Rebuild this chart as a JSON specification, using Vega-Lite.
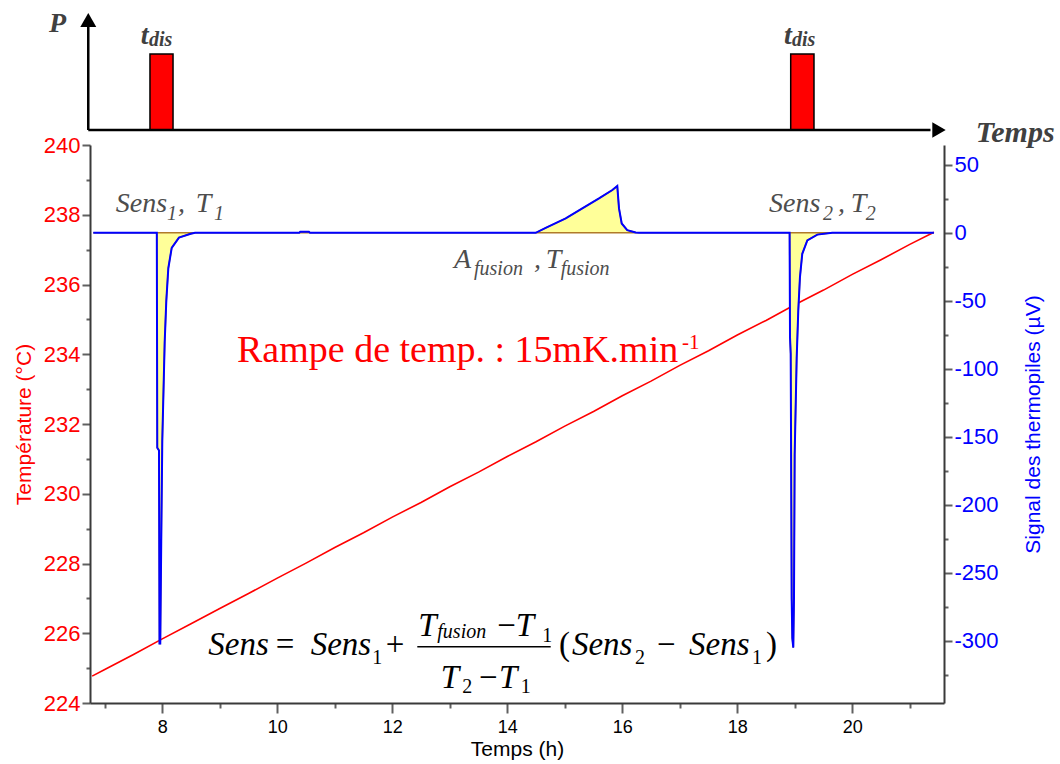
{
  "$schema": "https://vega.github.io/schema/vega-lite/v6.json",
  "padding": {"left": 13, "top": 9, "right": 2, "bottom": 2},
  "bounds": "flush",
  "spacing": 15,
  "config": {
    "locale": {"number": {"decimal": ".", "thousands": ",", "grouping": [3], "currency": ["", ""], "minus": "-"}},
    "view": {"stroke": null},
    "axis": {"grid": false, "labelFont": "Liberation Sans", "titleFont": "Liberation Sans", "titleFontWeight": "normal", "domainColor": "#3a3a3a", "domainWidth": 2, "tickColor": "#606060", "tickWidth": 2}
  },
  "vconcat": [
    {
      "width": 854,
      "height": 117,
      "layer": [
        {
          "data": {"values": [{"start": 7.786, "end": 8.187, "P": 1}, {"start": 18.929, "end": 19.334, "P": 1}]},
          "mark": {"type": "rect", "fill": "#ff0000", "stroke": "#000000", "strokeWidth": 1.5},
          "encoding": {
            "x": {"field": "start", "type": "quantitative", "scale": {"domain": [6.743, 21.595], "nice": false, "zero": false}, "axis": null},
            "x2": {"field": "end"},
            "y": {"field": "P", "type": "quantitative", "scale": {"domain": [0, 1.539], "nice": false, "zero": false}, "axis": null},
            "y2": {"datum": 0}
          }
        },
        {
          "data": {"values": [{"a": 6.713, "b": 6.713, "p1": 0, "p2": 1.36}, {"a": 6.713, "b": 21.36, "p1": 0, "p2": 0}]},
          "mark": {"type": "rule", "color": "#000000", "strokeWidth": 2.5},
          "encoding": {
            "x": {"field": "a", "type": "quantitative"},
            "x2": {"field": "b"},
            "y": {"field": "p1", "type": "quantitative"},
            "y2": {"field": "p2"}
          }
        },
        {
          "data": {"values": [{"h": 6.713, "P": 1.447}]},
          "mark": {"type": "point", "shape": "triangle-up", "size": 256, "filled": true, "color": "#000000", "opacity": 1},
          "encoding": {"x": {"field": "h", "type": "quantitative"}, "y": {"field": "P", "type": "quantitative"}}
        },
        {
          "data": {"values": [{"h": 21.508, "P": 0}]},
          "mark": {"type": "point", "shape": "triangle-right", "size": 240, "filled": true, "color": "#000000", "opacity": 1},
          "encoding": {"x": {"field": "h", "type": "quantitative"}, "y": {"field": "P", "type": "quantitative"}}
        },
        {
          "data": {"values": [{"h": 6.03, "P": 1.293, "txt": "P"}, {"h": 7.625, "P": 1.132, "txt": "t"}, {"h": 18.813, "P": 1.132, "txt": "t"}]},
          "mark": {"type": "text", "font": "Liberation Serif", "fontStyle": "italic", "fontWeight": "bold", "fontSize": 28, "color": "#404040", "align": "left", "baseline": "alphabetic"},
          "encoding": {"x": {"field": "h", "type": "quantitative"}, "y": {"field": "P", "type": "quantitative"}, "text": {"field": "txt"}}
        },
        {
          "data": {"values": [{"h": 7.77, "P": 1.105, "txt": "dis"}, {"h": 18.952, "P": 1.105, "txt": "dis"}]},
          "mark": {"type": "text", "font": "Liberation Serif", "fontStyle": "italic", "fontWeight": "bold", "fontSize": 20, "color": "#404040", "align": "left", "baseline": "alphabetic"},
          "encoding": {"x": {"field": "h", "type": "quantitative"}, "y": {"field": "P", "type": "quantitative"}, "text": {"field": "txt"}}
        },
        {
          "data": {"values": [{"h": 22.146, "P": -0.154, "txt": "Temps"}]},
          "mark": {"type": "text", "font": "Liberation Serif", "fontStyle": "italic", "fontWeight": "bold", "fontSize": 30, "color": "#404040", "align": "left", "baseline": "alphabetic"},
          "encoding": {"x": {"field": "h", "type": "quantitative"}, "y": {"field": "P", "type": "quantitative"}, "text": {"field": "txt"}}
        }
      ]
    },
    {
      "width": 854,
      "height": 558,
      "layer": [
        {
          "data": {"values": [
            {"h": 6.78, "T": 224.77}, {"h": 7.0, "T": 224.96}, {"h": 7.5, "T": 225.39}, {"h": 8.0, "T": 225.84},
            {"h": 8.5, "T": 226.27}, {"h": 9.0, "T": 226.71}, {"h": 9.5, "T": 227.14}, {"h": 10.0, "T": 227.58},
            {"h": 10.5, "T": 228.01}, {"h": 11.0, "T": 228.46}, {"h": 11.5, "T": 228.88}, {"h": 12.0, "T": 229.33},
            {"h": 12.5, "T": 229.75}, {"h": 13.0, "T": 230.2}, {"h": 13.5, "T": 230.62}, {"h": 14.0, "T": 231.07},
            {"h": 14.5, "T": 231.49}, {"h": 15.0, "T": 231.94}, {"h": 15.5, "T": 232.36}, {"h": 16.0, "T": 232.81},
            {"h": 16.5, "T": 233.23}, {"h": 17.0, "T": 233.68}, {"h": 17.5, "T": 234.1}, {"h": 18.0, "T": 234.55},
            {"h": 18.5, "T": 234.97}, {"h": 19.0, "T": 235.42}, {"h": 19.5, "T": 235.84}, {"h": 20.0, "T": 236.29},
            {"h": 20.5, "T": 236.71}, {"h": 21.0, "T": 237.15}, {"h": 21.42, "T": 237.5}
          ]},
          "mark": {"type": "line", "color": "#ff0000", "strokeWidth": 1.6},
          "encoding": {
            "x": {
              "field": "h", "type": "quantitative",
              "scale": {"domain": [6.743, 21.595], "nice": false, "zero": false},
              "axis": {
                "title": "Temps (h)", "values": [7, 8, 9, 10, 11, 12, 13, 14, 15, 16, 17, 18, 19, 20, 21],
                "format": "d",
                "labelExpr": "datum.value % 2 === 0 ? datum.label : ''",
                "tickSize": {"condition": {"test": "datum.value % 2 === 0", "value": 10}, "value": 5},
                "labelFontSize": 18, "labelColor": "#000000", "labelPadding": 5,
                "titleFontSize": 21, "titleColor": "#000000", "titlePadding": 2
              }
            },
            "y": {
              "field": "T", "type": "quantitative",
              "scale": {"domain": [224, 240], "nice": false, "zero": false},
              "axis": {
                "orient": "left",
                "title": "Température (°C)", "values": [224, 225, 226, 227, 228, 229, 230, 231, 232, 233, 234, 235, 236, 237, 238, 239, 240],
                "format": "d",
                "labelExpr": "datum.value % 2 === 0 ? datum.label : ''",
                "tickSize": {"condition": {"test": "datum.value % 2 === 0", "value": 8}, "value": 4},
                "labelFontSize": 22, "labelColor": "#ff0000", "labelPadding": 2,
                "titleFontSize": 21, "titleColor": "#ff0000", "titlePadding": 9
              }
            }
          }
        },
        {
          "data": {"values": [
            {"h": 7.19, "T": 238.07, "txt": "Sens"}, {"h": 8.273, "T": 238.07, "txt": ","}, {"h": 8.581, "T": 238.07, "txt": "T"},
            {"h": 18.552, "T": 238.07, "txt": "Sens"}, {"h": 19.752, "T": 238.07, "txt": ","}, {"h": 19.973, "T": 238.07, "txt": "T"},
            {"h": 13.073, "T": 236.46, "txt": "A"}, {"h": 14.465, "T": 236.46, "txt": ","}, {"h": 14.668, "T": 236.46, "txt": "T"}
          ]},
          "mark": {"type": "text", "font": "Liberation Serif", "fontStyle": "italic", "fontSize": 28, "color": "#4d4d4d", "align": "left", "baseline": "alphabetic"},
          "encoding": {"x": {"field": "h", "type": "quantitative"}, "y": {"field": "T", "type": "quantitative", "scale": {"domain": [224, 240], "nice": false, "zero": false}, "axis": null}, "text": {"field": "txt"}}
        },
        {
          "data": {"values": [
            {"h": 8.082, "T": 237.85, "txt": "1"}, {"h": 8.9, "T": 237.85, "txt": "1"},
            {"h": 19.49, "T": 237.85, "txt": "2"}, {"h": 20.234, "T": 237.85, "txt": "2"},
            {"h": 13.421, "T": 236.27, "txt": "fusion"}, {"h": 14.929, "T": 236.27, "txt": "fusion"}
          ]},
          "mark": {"type": "text", "font": "Liberation Serif", "fontStyle": "italic", "fontSize": 20, "color": "#4d4d4d", "align": "left", "baseline": "alphabetic"},
          "encoding": {"x": {"field": "h", "type": "quantitative"}, "y": {"field": "T", "type": "quantitative", "scale": {"domain": [224, 240], "nice": false, "zero": false}, "axis": null}, "text": {"field": "txt"}}
        },
        {
          "data": {"values": [{"h": 9.3, "T": 233.78, "txt": "Rampe de temp. : 15mK.min"}]},
          "mark": {"type": "text", "font": "Liberation Serif", "fontSize": 38, "color": "#ff0000", "align": "left", "baseline": "alphabetic"},
          "encoding": {"x": {"field": "h", "type": "quantitative"}, "y": {"field": "T", "type": "quantitative", "scale": {"domain": [224, 240], "nice": false, "zero": false}, "axis": null}, "text": {"field": "txt"}}
        },
        {
          "data": {"values": [{"h": 17.04, "T": 234.15, "txt": "-1"}]},
          "mark": {"type": "text", "font": "Liberation Serif", "fontSize": 21, "color": "#ff0000", "align": "left", "baseline": "alphabetic"},
          "encoding": {"x": {"field": "h", "type": "quantitative"}, "y": {"field": "T", "type": "quantitative", "scale": {"domain": [224, 240], "nice": false, "zero": false}, "axis": null}, "text": {"field": "txt"}}
        },
        {
          "data": {"values": [
            {"h": 8.8, "T": 225.38, "txt": "Sens"}, {"h": 10.581, "T": 225.38, "txt": "Sens"},
            {"h": 12.453, "T": 225.92, "txt": "T"}, {"h": 14.146, "T": 225.92, "txt": "T"},
            {"h": 12.842, "T": 224.44, "txt": "T"}, {"h": 13.856, "T": 224.44, "txt": "T"},
            {"h": 15.125, "T": 225.38, "txt": "Sens"}, {"h": 17.16, "T": 225.38, "txt": "Sens"}
          ]},
          "mark": {"type": "text", "font": "Liberation Serif", "fontStyle": "italic", "fontSize": 33, "color": "#000000", "align": "left", "baseline": "alphabetic"},
          "encoding": {"x": {"field": "h", "type": "quantitative"}, "y": {"field": "T", "type": "quantitative", "scale": {"domain": [224, 240], "nice": false, "zero": false}, "axis": null}, "text": {"field": "txt"}}
        },
        {
          "data": {"values": [
            {"h": 9.972, "T": 225.38, "txt": "="}, {"h": 11.886, "T": 225.38, "txt": "+"},
            {"h": 13.826, "T": 225.92, "txt": "−"}, {"h": 13.508, "T": 224.44, "txt": "−"},
            {"h": 14.899, "T": 225.38, "txt": "("}, {"h": 16.603, "T": 225.38, "txt": "−"}, {"h": 18.499, "T": 225.38, "txt": ")"}
          ]},
          "mark": {"type": "text", "font": "Liberation Serif", "fontSize": 33, "color": "#000000", "align": "left", "baseline": "alphabetic"},
          "encoding": {"x": {"field": "h", "type": "quantitative"}, "y": {"field": "T", "type": "quantitative", "scale": {"domain": [224, 240], "nice": false, "zero": false}, "axis": null}, "text": {"field": "txt"}}
        },
        {
          "data": {"values": [
            {"h": 11.653, "T": 225.12, "txt": "1"}, {"h": 14.609, "T": 225.75, "txt": "1"},
            {"h": 13.218, "T": 224.29, "txt": "2"}, {"h": 14.233, "T": 224.29, "txt": "1"},
            {"h": 16.22, "T": 225.12, "txt": "2"}, {"h": 18.256, "T": 225.12, "txt": "1"}
          ]},
          "mark": {"type": "text", "font": "Liberation Serif", "fontSize": 20, "color": "#000000", "align": "left", "baseline": "alphabetic"},
          "encoding": {"x": {"field": "h", "type": "quantitative"}, "y": {"field": "T", "type": "quantitative", "scale": {"domain": [224, 240], "nice": false, "zero": false}, "axis": null}, "text": {"field": "txt"}}
        },
        {
          "data": {"values": [{"h": 12.783, "T": 225.87, "txt": "fusion"}]},
          "mark": {"type": "text", "font": "Liberation Serif", "fontStyle": "italic", "fontSize": 20, "color": "#000000", "align": "left", "baseline": "alphabetic"},
          "encoding": {"x": {"field": "h", "type": "quantitative"}, "y": {"field": "T", "type": "quantitative", "scale": {"domain": [224, 240], "nice": false, "zero": false}, "axis": null}, "text": {"field": "txt"}}
        },
        {
          "data": {"values": [{"a": 12.435, "b": 14.755, "T": 225.61}]},
          "mark": {"type": "rule", "color": "#000000", "strokeWidth": 1.5},
          "encoding": {"x": {"field": "a", "type": "quantitative"}, "x2": {"field": "b"}, "y": {"field": "T", "type": "quantitative", "scale": {"domain": [224, 240], "nice": false, "zero": false}, "axis": null}}
        },
        {
          "data": {"name": "signalA", "values": [
            {"h": 6.8, "s": 0}, {"h": 7.905, "s": 0}, {"h": 7.913, "s": -158}, {"h": 7.943, "s": -160}, {"h": 7.952, "s": -302},
            {"h": 7.965, "s": -302}, {"h": 7.983, "s": -222}, {"h": 8.0, "s": -153}, {"h": 8.042, "s": -80}, {"h": 8.07, "s": -50},
            {"h": 8.105, "s": -26}, {"h": 8.164, "s": -11}, {"h": 8.29, "s": -3.5}, {"h": 8.494, "s": -0.7}, {"h": 8.57, "s": 0},
            {"h": 10.38, "s": 0}, {"h": 10.4, "s": 0.8}, {"h": 10.55, "s": 0.8}, {"h": 10.57, "s": 0},
            {"h": 14.494, "s": 0}, {"h": 14.668, "s": 3.7}, {"h": 15.016, "s": 10.6}, {"h": 15.305, "s": 18}, {"h": 15.595, "s": 25.3},
            {"h": 15.827, "s": 31.5}, {"h": 15.913, "s": 34.4}, {"h": 15.943, "s": 18}, {"h": 15.99, "s": 6.9}, {"h": 16.086, "s": 2},
            {"h": 16.233, "s": 0.25}, {"h": 16.29, "s": 0},
            {"h": 18.91, "s": 0}, {"h": 18.917, "s": -77}, {"h": 18.929, "s": -89}, {"h": 18.946, "s": -269}, {"h": 18.957, "s": -298},
            {"h": 18.974, "s": -305}, {"h": 18.986, "s": -269}, {"h": 18.998, "s": -163}, {"h": 19.033, "s": -92}, {"h": 19.061, "s": -57},
            {"h": 19.09, "s": -32.6}, {"h": 19.13, "s": -15.4}, {"h": 19.218, "s": -5.5}, {"h": 19.392, "s": -1.3}, {"h": 19.652, "s": 0},
            {"h": 21.42, "s": 0}
          ]},
          "mark": {"type": "area", "fill": "#ffff99", "stroke": "#b07a2a", "strokeWidth": 1.5, "fillOpacity": 1},
          "encoding": {
            "x": {"field": "h", "type": "quantitative"},
            "y": {"field": "s", "type": "quantitative", "scale": {"domain": [-345.7, 64.6], "nice": false, "zero": false}, "axis": null},
            "y2": {"datum": 0}
          }
        },
        {
          "data": {"name": "signalA"},
          "mark": {"type": "line", "color": "#0000ff", "strokeWidth": 2},
          "encoding": {
            "x": {"field": "h", "type": "quantitative"},
            "y": {
              "field": "s", "type": "quantitative",
              "scale": {"domain": [-345.7, 64.6], "nice": false, "zero": false},
              "axis": {
                "orient": "right", "title": "Signal des thermopiles (µV)",
                "values": [-325, -300, -275, -250, -225, -200, -175, -150, -125, -100, -75, -50, -25, 0, 25, 50],
                "format": "d",
                "labelExpr": "datum.value % 50 === 0 ? datum.label : ''",
                "tickSize": {"condition": {"test": "datum.value % 50 === 0", "value": 8}, "value": 4},
                "labelFontSize": 22, "labelColor": "#0000ff", "labelPadding": 2,
                "titleFontSize": 21, "titleColor": "#0000ff", "titlePadding": 24, "titleAngle": 270, "titleBaseline": "top"
              }
            }
          }
        }
      ],
      "resolve": {"scale": {"y": "independent"}, "axis": {"y": "independent"}}
    }
  ]
}
